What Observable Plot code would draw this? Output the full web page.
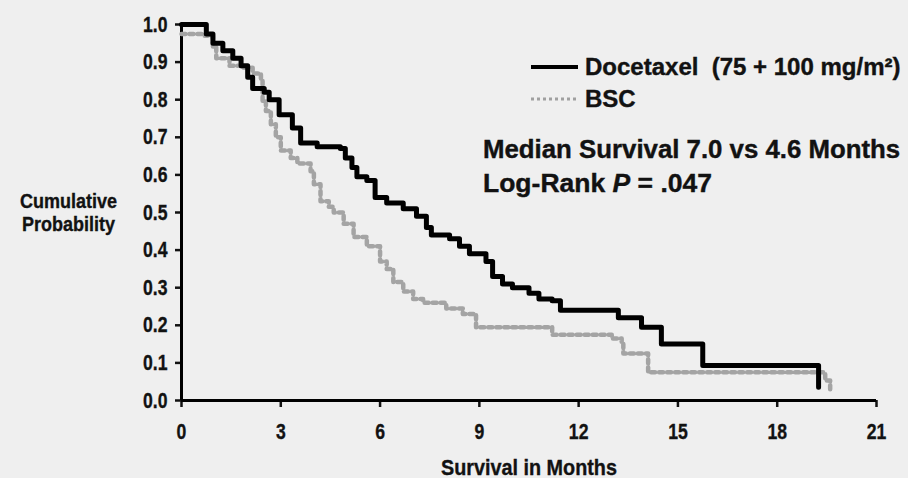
<!DOCTYPE html>
<html>
<head>
<meta charset="utf-8">
<script src="https://cdn.jsdelivr.net/npm/d3@7"></script>
<script src="https://cdn.jsdelivr.net/npm/@observablehq/plot@0.6"></script>
<style>
  html, body { margin: 0; padding: 0; background: #efefef; }
  #wrap { position: relative; width: 908px; height: 478px; overflow: hidden; background: #efefef; }
  .ann { position: absolute; font-family: "Liberation Sans", Arial, sans-serif; font-weight: bold; color: #121212; white-space: nowrap; line-height: 1; -webkit-text-stroke: 0.4px #121212; }
  #legend-svg { position: absolute; left: 0; top: 0; }
  #chart svg text { stroke: #121212; stroke-width: 0.35px; }
</style>
</head>
<body>
<div id="wrap">
  <div id="chart"></div>
  <svg id="legend-svg" width="908" height="478">
    <line x1="531" x2="578" y1="67" y2="67" stroke="#000" stroke-width="4"></line>
    <line x1="531" x2="578" y1="99" y2="99" stroke="#a0a0a0" stroke-width="3" stroke-dasharray="3,3"></line>
  </svg>
  <div class="ann" style="left:585px; top:55px; font-size:24px;">Docetaxel&nbsp; (75 + 100 mg/m²)</div>
  <div class="ann" style="left:585px; top:87px; font-size:24px;">BSC</div>
  <div class="ann" style="left:483px; top:137px; font-size:25.8px;">Median Survival 7.0 vs 4.6 Months</div>
  <div class="ann" style="left:483px; top:170px; font-size:26.5px;">Log-Rank <i>P</i> = .047</div>
</div>
<script>
// Survival in months (x ticks)
const xTicks = [0, 3, 6, 9, 12, 15, 18, 21];
const yTicks = [0, 0.1, 0.2, 0.3, 0.4, 0.5, 0.6, 0.7, 0.8, 0.9, 1.0];

// Docetaxel (75 + 100 mg/m2) — Kaplan-Meier steps (time, survival after time)
const docTime = [0, 0.75, 0.95, 1.25, 1.55, 1.8, 2.0, 2.15, 2.5, 2.65, 2.95, 3.35, 3.6, 4.1, 4.8, 4.95, 5.15, 5.3, 5.6, 5.85, 6.2, 6.7, 7.1, 7.4, 7.55, 8.1, 8.4, 8.7, 9.2, 9.4, 9.7, 10.0, 10.5, 10.8, 11.2, 11.45, 13.2, 13.9, 14.5, 15.75, 19.25];
const docSurv = [1.0, 0.975, 0.95, 0.93, 0.91, 0.89, 0.86, 0.83, 0.82, 0.80, 0.76, 0.725, 0.685, 0.675, 0.67, 0.645, 0.62, 0.595, 0.585, 0.54, 0.525, 0.51, 0.49, 0.46, 0.44, 0.43, 0.41, 0.39, 0.37, 0.33, 0.31, 0.30, 0.285, 0.27, 0.265, 0.24, 0.22, 0.195, 0.15, 0.093, 0.035];

// BSC
const bscTime = [0, 0.7, 0.95, 1.05, 1.45, 1.8, 2.15, 2.4, 2.45, 2.55, 2.7, 2.85, 3.0, 3.3, 3.5, 3.9, 4.0, 4.2, 4.45, 4.6, 4.9, 5.2, 5.6, 6.0, 6.2, 6.4, 6.7, 7.0, 7.3, 8.0, 8.5, 8.9, 11.2, 13.0, 13.3, 13.35, 14.1, 19.45, 19.6];
const bscSurv = [0.975, 0.97, 0.94, 0.91, 0.89, 0.885, 0.87, 0.85, 0.795, 0.77, 0.735, 0.70, 0.665, 0.645, 0.63, 0.61, 0.575, 0.53, 0.515, 0.50, 0.47, 0.435, 0.41, 0.37, 0.35, 0.315, 0.29, 0.27, 0.26, 0.245, 0.23, 0.195, 0.175, 0.165, 0.15, 0.125, 0.075, 0.053, 0.03];

const xLabel = "Survival in Months";
const yLabel = "Cumulative\nProbability";

const doc = docTime.map((t, i) => ({t, s: docSurv[i]}));
const bsc = bscTime.map((t, i) => ({t, s: bscSurv[i]}));

const font = '"Liberation Sans", Arial, sans-serif';

const chart = Plot.plot({
  width: 908,
  height: 478,
  marginLeft: 181,
  marginRight: 32,
  marginTop: 24,
  marginBottom: 78,
  style: {background: "transparent", fontFamily: font, fontSize: "22px", fontWeight: "bold", color: "#121212", overflow: "visible"},
  x: {domain: [0, 21]},
  y: {domain: [0, 1]},
  marks: [
    Plot.axisX({ticks: xTicks, tickSize: 7, tickPadding: 16, tickFormat: d => String(d), strokeWidth: 2.5, label: null, fontSize: 22}),
    Plot.axisY({ticks: yTicks, tickSize: 6, tickPadding: 8, tickFormat: d3.format(".1f"), strokeWidth: 2.5, label: null, fontSize: 22}),
    Plot.ruleX([0], {stroke: "#000", strokeWidth: 3}),
    Plot.ruleY([0], {stroke: "#000", strokeWidth: 3}),
    Plot.line(bsc, {x: "t", y: "s", curve: "step-after", stroke: "#a4a4a4", strokeWidth: 4.5, strokeDasharray: "4,4"}),
    Plot.line(doc, {x: "t", y: "s", curve: "step-after", stroke: "#000", strokeWidth: 5}),
    Plot.text([xLabel], {frameAnchor: "bottom", dy: 67, fontSize: 22, fontWeight: "bold", lineAnchor: "middle", fill: "#121212", className: "cond-label"}),
    Plot.text([yLabel], {frameAnchor: "left", dx: -113, fontSize: 20, fontWeight: "bold", textAnchor: "middle", lineAnchor: "middle", lineHeight: 1.15, fill: "#121212", className: "cond-ylabel"})
  ]
});
document.getElementById("chart").appendChild(chart);

// condensed look for axis text (scale horizontally around each label's anchor)
function condense(sel, sx) {
  chart.querySelectorAll(sel).forEach(t => {
    const tr = t.getAttribute("transform") || "";
    t.setAttribute("transform", tr + ` scale(${sx},1)`);
  });
}
condense('g[aria-label="x-axis tick label"] text', 0.8);
condense('g[aria-label="y-axis tick label"] text', 0.8);
condense('.cond-label text', 0.9);
condense('.cond-ylabel text', 0.9);
</script>
</body>
</html>
